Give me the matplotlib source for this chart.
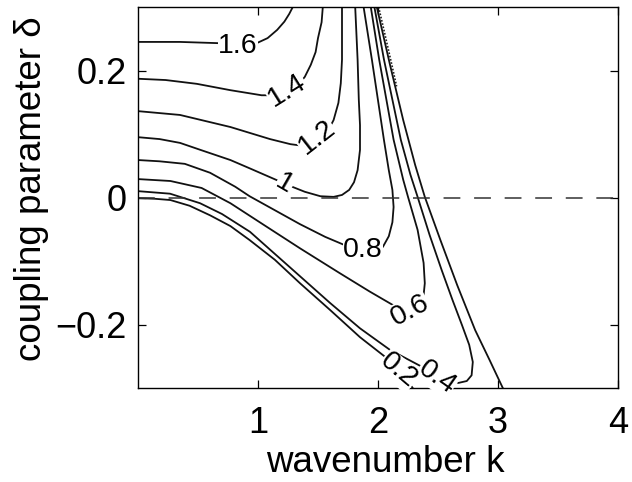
import matplotlib
matplotlib.use('Agg')
import matplotlib.pyplot as plt

plt.rcParams['font.family'] = ['Liberation Sans', 'DejaVu Sans']

# contour lines (k, delta)
k_16 = [0.0, 0.35, 0.68, 0.85, 1.0, 1.08, 1.16, 1.22, 1.26, 1.29]
d_16 = [0.245, 0.245, 0.243, 0.241, 0.244, 0.251, 0.264, 0.277, 0.289, 0.300]

k_14 = [0.0, 0.23, 0.49, 0.77, 1.03, 1.14, 1.24, 1.33, 1.39, 1.44, 1.48, 1.50, 1.53, 1.54]
d_14 = [0.187, 0.185, 0.179, 0.169, 0.161, 0.161, 0.166, 0.176, 0.190, 0.209, 0.229, 0.251, 0.276, 0.300]

k_12 = [0.0, 0.35, 0.77, 1.10, 1.27, 1.39, 1.49, 1.57, 1.63, 1.67, 1.69, 1.70, 1.70, 1.70]
d_12 = [0.136, 0.130, 0.111, 0.092, 0.084, 0.081, 0.086, 0.100, 0.122, 0.149, 0.180, 0.217, 0.264, 0.300]

k_10 = [0.0, 0.18, 0.35, 0.52, 0.77, 0.93, 1.10, 1.27, 1.39, 1.52, 1.63, 1.70, 1.76, 1.80, 1.83, 1.85, 1.85, 1.84, 1.83, 1.81]
d_10 = [0.095, 0.092, 0.086, 0.075, 0.059, 0.046, 0.032, 0.018, 0.009, 0.002, 0.001, 0.004, 0.012, 0.024, 0.043, 0.075, 0.114, 0.154, 0.217, 0.300]

k_08 = [0.0, 0.18, 0.39, 0.60, 0.81, 0.93, 1.14, 1.35, 1.56, 1.71, 1.88,
        2.04, 2.09, 2.12, 2.13, 2.12, 2.09, 2.05, 2.00, 1.95, 1.88]
d_08 = [0.059, 0.057, 0.053, 0.039, 0.017, 0.002, -0.020, -0.042, -0.062, -0.074, -0.082,
        -0.078, -0.061, -0.039, -0.015, 0.012, 0.043, 0.090, 0.153, 0.216, 0.300]

k_06 = [0.0, 0.27, 0.53, 0.77, 1.08, 1.35, 1.68, 1.93, 2.13, 2.27,
        2.35, 2.38, 2.39, 2.38, 2.33, 2.25, 2.21, 2.13, 2.07, 2.01, 1.94]
d_06 = [0.029, 0.026, 0.015, -0.009, -0.047, -0.080, -0.119, -0.148, -0.170, -0.178,
        -0.166, -0.154, -0.135, -0.103, -0.051, 0.001, 0.028, 0.091, 0.154, 0.217, 0.300]

k_04 = [0.0, 0.267, 0.517, 0.70, 0.933, 1.35, 1.60, 1.85, 2.10, 2.35, 2.49,
        2.67, 2.74, 2.78, 2.79, 2.76, 2.70, 2.62, 2.53, 2.43, 2.33, 2.27, 2.19, 2.12, 2.05, 1.97]
d_04 = [0.010, 0.006, -0.009, -0.026, -0.054, -0.124, -0.166, -0.206, -0.240, -0.265, -0.283,
        -0.292, -0.289, -0.280, -0.259, -0.232, -0.201, -0.161, -0.114, -0.059, 0.001, 0.036, 0.091, 0.154, 0.217, 0.300]

k_02a = [0.0, 0.14, 0.27, 0.43, 0.60, 0.77, 0.93, 1.14, 1.35, 1.60, 1.85, 2.06, 2.17, 2.27, 2.35]
d_02a = [-0.001, -0.002, -0.004, -0.013, -0.028, -0.045, -0.067, -0.098, -0.135, -0.177, -0.220, -0.251, -0.273, -0.295, -0.316]

k_02b = [3.04, 2.93, 2.81, 2.66, 2.52, 2.39, 2.31, 2.21, 2.10, 1.99]
d_02b = [-0.300, -0.256, -0.209, -0.138, -0.067, 0.001, 0.051, 0.122, 0.209, 0.300]

k_dot = [2.005, 2.06, 2.12, 2.155]
d_dot = [0.300, 0.255, 0.205, 0.175]

k_zero = [0.0, 4.0]
d_zero = [0.0, 0.0]

label_text = ['1.6', '1.4', '1.2', '1', '0.8', '0.6', '0.4', '0.2']
label_k = [0.83, 1.24, 1.49, 1.22, 1.875, 2.267, 2.49, 2.17]
label_d = [0.239, 0.169, 0.095, 0.021, -0.082, -0.178, -0.283, -0.273]
label_rot = [0, 32, 38, -30, 0, 28, -35, -40]

xticks = [1, 2, 3, 4]
yticks = [-0.2, 0.0, 0.2]
yticklabels = ['\u22120.2', '0', '0.2']

fig = plt.figure(figsize=(6.32, 4.82), dpi=100)
ax = fig.add_axes([138 / 632, 94 / 482, 480 / 632, 381 / 482])

lines = [(k_16, d_16), (k_14, d_14), (k_12, d_12), (k_10, d_10), (k_08, d_08),
         (k_06, d_06), (k_04, d_04), (k_02a, d_02a), (k_02b, d_02b)]
for kk, dd in lines:
    ax.plot(kk, dd, color='#111111', lw=1.3, solid_joinstyle='round')

ax.plot(k_dot, d_dot, color='#222222', lw=1.2, linestyle=(0, (1, 1.0)))
ax.plot(k_zero, d_zero, color='#333333', lw=1.1, dashes=(11, 9))

for t, kx, dy, r in zip(label_text, label_k, label_d, label_rot):
    ax.text(kx, dy, t, fontsize=20.5, rotation=r, ha='center', va='center',
            rotation_mode='anchor', zorder=5,
            bbox=dict(fc='white', ec='none', pad=0.2))

ax.set_xlim(0, 4)
ax.set_ylim(-0.3, 0.3)
ax.set_xticks(xticks)
ax.set_xticklabels([str(x) for x in xticks])
ax.set_yticks(yticks)
ax.set_yticklabels(yticklabels)
ax.tick_params(direction='in', length=6, width=0.9, top=True, right=True, labelsize=26)
ax.tick_params(axis='x', pad=13)
ax.tick_params(axis='y', pad=8)
for s in ax.spines.values():
    s.set_linewidth(1.0)

fig.text(32 / 632, (482 - 189) / 482, 'coupling parameter \u03b4', rotation=90,
         ha='center', va='center', fontsize=26.5)
fig.text(385 / 632, (482 - 472) / 482, 'wavenumber k', ha='center', va='baseline',
         fontsize=26.5)

fig.savefig('out.png', dpi=100)
